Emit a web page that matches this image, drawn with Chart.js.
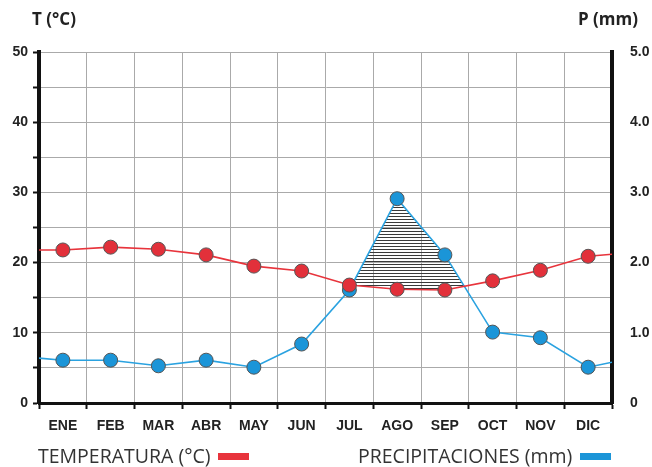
<!DOCTYPE html>
<html lang="es">
<head>
  <meta charset="UTF-8" />
  <title>Climograma</title>
  <script src="https://cdn.jsdelivr.net/npm/chart.js"></script>
  <style>
    body { margin: 0; background: #fff; }
    .wrap { position: relative; width: 652px; height: 467px; overflow: hidden; }
    .wrap canvas { position: absolute; left: 0; top: 0; }
    .title { position: absolute; top: 7px; font: bold 17px "Open Sans"; color: #222; white-space: nowrap; }
    .leg { position: absolute; top: 442px; font: 19.5px "Open Sans"; color: #333; white-space: nowrap; }
    .sw { position: absolute; top: 453px; width: 31px; height: 7px; }
  </style>
</head>
<body>
  <div class="wrap">
    <canvas id="clima" width="652" height="467"></canvas>
    <div class="title" style="left:32px">T (°C)</div>
    <div class="title" style="left:578px">P (mm)</div>
    <div class="leg" style="left:38px">TEMPERATURA (°C)</div>
    <div class="sw" style="left:218px;background:#e8343c"></div>
    <div class="leg" style="left:358px">PRECIPITACIONES (mm)</div>
    <div class="sw" style="left:580px;background:#1b95d8"></div>
  </div>

  <script>
    const months = ["ENE", "FEB", "MAR", "ABR", "MAY", "JUN", "JUL", "AGO", "SEP", "OCT", "NOV", "DIC"];
    const temperature = [21.8, 22.2, 21.9, 21.1, 19.5, 18.8, 16.8, 16.2, 16.1, 17.4, 18.9, 20.9];
    const precipitation = [0.61, 0.61, 0.53, 0.61, 0.51, 0.84, 1.61, 2.91, 2.11, 1.01, 0.93, 0.51];
    // where the lines leave the chart at the left and right edges
    const tempEdges = [21.8, 21.2];
    const precEdges = [0.64, 0.58];
    const tempLabels = [0, 10, 20, 30, 40, 50];
    const precLabels = ["0", "1.0", "2.0", "3.0", "4.0", "5.0"];

    function series(values, edges) {
      return [{ x: 0, y: edges[0] }]
        .concat(values.map((v, i) => ({ x: i + 0.5, y: v })))
        .concat([{ x: months.length, y: edges[1] }]);
    }

    const ctx = document.getElementById("clima").getContext("2d");

    // horizontal hatching between the two curves
    const pc = document.createElement("canvas");
    pc.width = 4; pc.height = 3;
    const pctx = pc.getContext("2d");
    pctx.fillStyle = "#3a3a3a";
    pctx.fillRect(0, 0, 4, 1);
    const hatch = ctx.createPattern(pc, "repeat");

    const isEdge = c => c.dataIndex === 0 || c.dataIndex === months.length + 1;

    new Chart(ctx, {
      type: "line",
      data: {
        datasets: [
          {
            label: "TEMPERATURA (°C)",
            data: series(temperature, tempEdges),
            yAxisID: "y",
            xAxisID: "x",
            borderColor: "#e8343c",
            borderWidth: 1.6,
            pointBackgroundColor: "#e2303a",
            pointBorderColor: "#555",
            pointBorderWidth: 1,
            pointRadius: c => isEdge(c) ? 0 : 7,
            tension: 0,
            fill: false
          },
          {
            label: "PRECIPITACIONES (mm)",
            data: series(precipitation, precEdges),
            yAxisID: "y1",
            xAxisID: "x",
            borderColor: "#2aa2e0",
            borderWidth: 1.6,
            pointBackgroundColor: "#1b95d8",
            pointBorderColor: "#555",
            pointBorderWidth: 1,
            pointRadius: c => isEdge(c) ? 0 : 7,
            tension: 0,
            fill: { target: 0, above: hatch, below: "rgba(0,0,0,0)" }
          }
        ]
      },
      options: {
        responsive: false,
        devicePixelRatio: 1,
        animation: false,
        layout: { padding: { top: 52, left: 0, right: 0, bottom: 0 } },
        plugins: { legend: { display: false }, tooltip: { enabled: false } },
        scales: {
          x: {
            type: "linear",
            position: "bottom",
            min: 0,
            max: months.length,
            ticks: { stepSize: 1, callback: () => "", padding: 0 },
            grid: { color: "#aaa", lineWidth: 1, tickColor: "#111", tickLength: 6, tickWidth: 2 },
            border: { color: "#111", width: 3 },
            afterFit: s => { s.height = 6; }
          },
          x2: {
            type: "linear",
            position: "bottom",
            min: 0,
            max: months.length,
            afterBuildTicks: s => { s.ticks = months.map((m, i) => ({ value: i + 0.5 })); },
            ticks: {
              autoSkip: false, maxRotation: 0, padding: 1,
              callback: (v, i) => months[i],
              color: "#222",
              font: { family: "Liberation Sans", weight: "bold", size: 14 }
            },
            grid: { display: false },
            border: { display: false },
            afterFit: s => { s.height = 467 - 403 - 6; }
          },
          y: {
            position: "left",
            min: 0,
            max: 50,
            ticks: {
              stepSize: 5, padding: 5,
              callback: v => tempLabels.includes(v) ? v : "",
              color: "#222",
              font: { family: "Liberation Sans", weight: "bold", size: 14 }
            },
            grid: { color: "#aaa", lineWidth: 1, tickColor: "#111", tickLength: 6, tickWidth: 2 },
            border: { color: "#111", width: 4 },
            afterFit: s => { s.width = 39; }
          },
          y1: {
            position: "right",
            min: 0,
            max: 5,
            ticks: {
              stepSize: 0.5, padding: 10,
              callback: v => Number.isInteger(v) ? precLabels[v] : "",
              color: "#222",
              font: { family: "Liberation Sans", weight: "bold", size: 14 }
            },
            grid: { display: false },
            border: { color: "#111", width: 4 },
            afterFit: s => { s.width = 40; }
          }
        }
      }
    });
  </script>
</body>
</html>
